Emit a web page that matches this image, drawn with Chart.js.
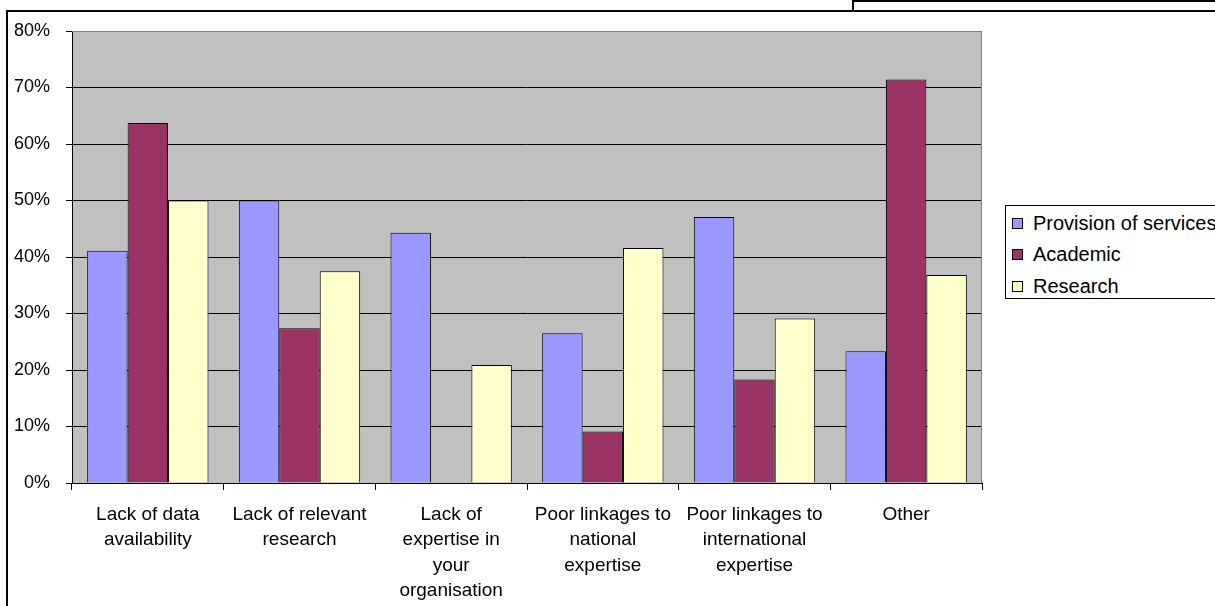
<!DOCTYPE html>
<html>
<head>
<meta charset="utf-8">
<script src="https://cdn.jsdelivr.net/npm/chart.js@4.4.0/dist/chart.umd.min.js"></script>
<style>
    html, body { margin: 0; padding: 0; background: #fff; }
    body { width: 1215px; height: 606px; position: relative; overflow: hidden; font-family: "Liberation Sans", Arial, sans-serif; }
    #wrap { position: absolute; left: 0; top: 0; width: 1215px; height: 606px; }
    .frame-left { position: absolute; left: 6px; top: 10px; width: 2px; height: 600px; background: #000; }
    .frame-top { position: absolute; left: 6px; top: 10px; width: 1215px; height: 2px; background: #000; }
    .topbox { position: absolute; left: 852px; top: 0px; width: 390px; height: 9px; border: 2px solid #000; border-right: none; border-bottom: none; }
    #legend { position: absolute; left: 1005px; top: 205px; width: 260px; height: 92px; border: 1px solid #000; background: #fff; }
    #legend .row { position: absolute; left: 6px; height: 24px; line-height: 24px; font-size: 20px; color: #000; white-space: nowrap; }
    #legend .sw { position: absolute; left: 0; top: 7px; width: 9px; height: 9px; border: 1px solid #000; }
    #legend .txt { position: absolute; left: 21px; top: 0; }
</style>
</head>
<body>
<div id="wrap"><canvas id="chart" width="1215" height="606"></canvas></div>
<div class="frame-left"></div>
<div class="frame-top"></div>
<div class="topbox"></div>
<div id="legend"></div>
<script>
document.addEventListener("DOMContentLoaded", function() {
    // Categories (multi-line labels as drawn under the axis)
    var categories = [
        ["Lack of data", "availability"],
        ["Lack of relevant", "research"],
        ["Lack of", "expertise in", "your", "organisation"],
        ["Poor linkages to", "national", "expertise"],
        ["Poor linkages to", "international", "expertise"],
        ["Other"]
    ];

    // Series values in percent
    var provisionOfServices = [41.1, 50.0, 44.3, 26.5, 47.1, 23.3];
    var academic = [63.7, 27.4, 0, 9.1, 18.3, 71.4];
    var research = [50.0, 37.5, 20.9, 41.6, 29.1, 36.8];

    var seriesNames = ["Provision of services", "Academic", "Research"];
    var seriesColors = ["#9999FF", "#993366", "#FFFFCC"];

    // Y axis ticks
    var yTicks = [0, 10, 20, 30, 40, 50, 60, 70, 80];

    var fontFamily = '"Liberation Sans", Arial, sans-serif';

    // Grey plot background and grey top/right border
    var plotArea = {
        id: "plotArea",
        beforeDraw: function(chart) {
            var a = chart.chartArea, ctx = chart.ctx;
            ctx.save();
            ctx.fillStyle = "#C0C0C0";
            ctx.fillRect(a.left, a.top, a.right - a.left, a.bottom - a.top);
            ctx.restore();
        },
        afterDraw: function(chart) {
            var a = chart.chartArea, ctx = chart.ctx;
            ctx.save();
            ctx.strokeStyle = "#808080";
            ctx.lineWidth = 1;
            ctx.beginPath();
            ctx.moveTo(a.left, a.top + 0.5);
            ctx.lineTo(a.right - 0.5, a.top + 0.5);
            ctx.lineTo(a.right - 0.5, a.bottom);
            ctx.stroke();
            ctx.restore();
        }
    };

    var values = [provisionOfServices, academic, research];
    var datasets = values.map(function(v, i) {
        return {
            label: seriesNames[i],
            data: v,
            backgroundColor: seriesColors[i],
            borderColor: "#000000",
            borderWidth: 1,
            borderSkipped: "bottom",
            categoryPercentage: 0.8,
            barPercentage: 1.0
        };
    });

    var ctx = document.getElementById("chart").getContext("2d");
    new Chart(ctx, {
        type: "bar",
        data: { labels: categories, datasets: datasets },
        options: {
            responsive: false,
            animation: false,
            layout: { padding: { left: 0, right: 233, top: 31, bottom: 0 } },
            plugins: {
                legend: { display: false },
                tooltip: { enabled: false }
            },
            scales: {
                x: {
                    grid: { display: true, drawOnChartArea: false, drawTicks: true, tickLength: 7, color: "#000000", offset: true },
                    border: { color: "#000000", width: 1 },
                    ticks: {
                        color: "#000000",
                        font: { family: fontFamily, size: 19, lineHeight: 1.34 },
                        padding: 12,
                        maxRotation: 0,
                        autoSkip: false
                    },
                    afterFit: function(scale) { scale.height = 123; }
                },
                y: {
                    min: 0,
                    max: yTicks[yTicks.length - 1],
                    afterBuildTicks: function(scale) {
                        scale.ticks = yTicks.map(function(v) { return { value: v }; });
                    },
                    grid: {
                        color: function(c) { return c.tick && c.tick.value === 80 ? "#808080" : "#000000"; },
                        tickColor: "#000000",
                        tickLength: 6,
                        lineWidth: 1
                    },
                    border: { color: "#000000", width: 1 },
                    ticks: {
                        color: "#000000",
                        font: { family: fontFamily, size: 18 },
                        padding: 16,
                        callback: function(v) { return v + "%"; }
                    },
                    afterFit: function(scale) { scale.width = 72; }
                }
            }
        },
        plugins: [plotArea]
    });

    // HTML legend, built from the same series arrays
    var legend = document.getElementById("legend");
    var rowTops = [5, 36, 68];
    seriesNames.forEach(function(name, i) {
        var row = document.createElement("div");
        row.className = "row";
        row.style.top = rowTops[i] + "px";
        row.innerHTML = '<span class="sw" style="background:' + seriesColors[i] + '"></span><span class="txt">' + name + '</span>';
        legend.appendChild(row);
    });
});
</script>
</body>
</html>
